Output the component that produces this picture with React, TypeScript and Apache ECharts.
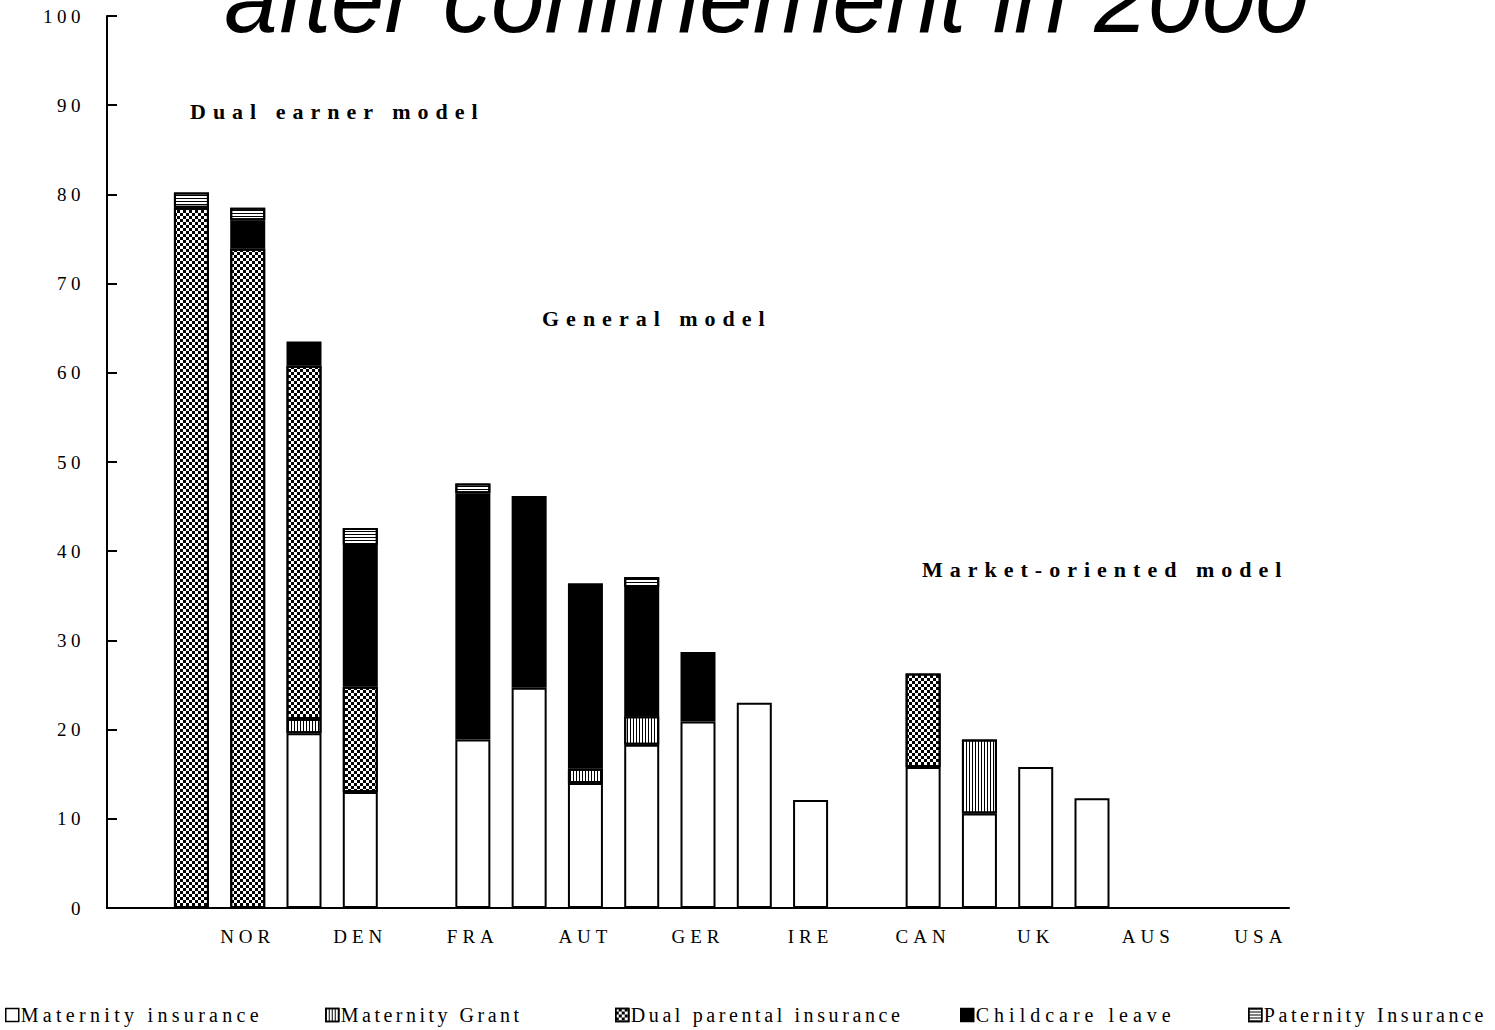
import React, { useEffect, useRef } from "react";
import * as echarts from "echarts";

// ---- data ----
const xTickLabels = ["", "", "NOR", "", "DEN", "", "FRA", "", "AUT", "", "GER", "", "IRE", "", "CAN", "", "UK", "", "AUS", "", "USA"];
const yTicks = [0, 10, 20, 30, 40, 50, 60, 70, 80, 90, 100];

const maternityInsurance = [null, null, null, 19.6, 13.0, null, 18.9, 24.7, 14.0, 18.3, 20.9, 23.0, 12.1, null, 15.8, 10.6, 15.8, 12.3, null, null, null];
const maternityGrant = [null, null, null, 1.6, null, null, null, null, 1.6, 3.2, null, null, null, null, null, 8.3, null, null, null, null, null];
const dualParental = [null, 78.5, 73.9, 39.6, 11.8, null, null, null, null, null, null, null, null, null, 10.5, null, null, null, null, null, null];
const childcareLeave = [null, null, 3.2, 2.7, 15.9, null, 27.6, 21.5, 20.8, 14.5, 7.8, null, null, null, null, null, null, null, null, null, null];
const paternityInsurance = [null, 1.7, 1.4, null, 1.9, null, 1.1, null, null, 1.1, null, null, null, null, null, null, null, null, null, null, null];

const seriesNames = ["Maternity insurance", "Maternity Grant", "Dual parental insurance", "Childcare leave", "Paternity Insurance"];
const titleText = "after confinement in 2000";
const annotations = ["Dual earner model", "General model", "Market-oriented model"];

const SERIF = '"Liberation Serif", "Times New Roman", serif';

export default function App() {
  const ref = useRef<HTMLDivElement | null>(null);

  useEffect(() => {
    if (!ref.current) return;
    const chart = echarts.init(ref.current, null, { renderer: "svg" });

    const baseItem = { borderColor: "#000", borderWidth: 2 };
    const decals: any[] = [
      null,
      { symbol: "rect", symbolSize: 1, color: "#000", dashArrayX: [[1, 2]], dashArrayY: [3, 0] },
      { symbol: "rect", symbolSize: 1, color: "#000", dashArrayX: [[3, 3], [0, 3, 3, 0]], dashArrayY: [3, 0] },
      null,
      { symbol: "rect", symbolSize: 1, color: "#000", dashArrayX: [[3, 0]], dashArrayY: [1, 2] },
    ];
    const fills = ["#fff", "#fff", "#fff", "#000", "#fff"];
    const datas = [maternityInsurance, maternityGrant, dualParental, childcareLeave, paternityInsurance];

    const series = seriesNames.map((name, i) => {
      const itemStyle: any = { ...baseItem, color: fills[i] };
      if (decals[i]) itemStyle.decal = decals[i];
      return {
        name,
        type: "bar",
        stack: "total",
        barWidth: 35,
        data: datas[i],
        itemStyle,
        emphasis: { disabled: true },
      };
    });

    const legendLefts = [5, 325, 615, 960, 1248];
    const legendSpacing = [4.3, 3.5, 3.6, 5, 3.6];
    const legend = seriesNames.map((n, i) => ({
      data: [n],
      left: legendLefts[i],
      top: 1005,
      icon: "rect",
      itemWidth: 13,
      itemHeight: 13,
      padding: 0,
      selectedMode: false,
      textStyle: { fontFamily: SERIF, fontSize: 20, color: "#000", padding: [0, 0, 0, -3] },
      itemStyle: { borderColor: "#000", borderWidth: 1.5 },
    }));

    const annotPos = [
      [190, 111.5],
      [542, 318.5],
      [922, 569.5],
    ];

    const option: any = {
      animation: false,
      backgroundColor: "#fff",
      grid: { left: 107, right: 206, top: 16, bottom: 122, containLabel: false },
      xAxis: {
        type: "category",
        data: xTickLabels,
        axisLine: { show: true, lineStyle: { color: "#000", width: 2 } },
        axisTick: { show: false },
        axisLabel: { interval: 0, color: "#000", fontFamily: SERIF, fontSize: 19, margin: 19 },
        splitLine: { show: false },
      },
      yAxis: {
        type: "value",
        min: yTicks[0],
        max: yTicks[yTicks.length - 1],
        interval: 10,
        axisLine: { show: true, lineStyle: { color: "#000", width: 2 } },
        axisTick: { show: true, inside: true, length: 10, lineStyle: { color: "#000", width: 2 } },
        splitLine: { show: false },
        axisLabel: { color: "#000", fontFamily: SERIF, fontSize: 19, margin: 22, padding: [6, 0, 0, 0] },
      },
      legend,
      tooltip: { show: false },
      graphic: [
        {
          type: "text",
          x: 766,
          y: -1.5,
          silent: true,
          style: {
            text: titleText,
            font: 'italic 96px "Liberation Sans", Arial, sans-serif',
            fill: "#000",
            align: "center",
            verticalAlign: "middle",
            textAlign: "center",
            textVerticalAlign: "middle",
          },
        },
        ...annotations.map((t, i) => ({
          type: "text",
          x: annotPos[i][0],
          y: annotPos[i][1],
          silent: true,
          style: {
            text: t,
            font: 'bold 22px "Liberation Serif", "Times New Roman", serif',
            fill: "#000",
            align: "left",
            verticalAlign: "middle",
            textAlign: "left",
            textVerticalAlign: "middle",
          },
        })),
      ],
      series,
    };

    chart.setOption(option);

    const spacing = new Map<string, number>();
    yTicks.forEach((v) => spacing.set(String(v), 4.5));
    xTickLabels.forEach((l) => l && spacing.set(l, 5));
    annotations.forEach((a) => spacing.set(a, 7));
    seriesNames.forEach((s, i) => spacing.set(s, legendSpacing[i]));

    const apply = () => {
      const el = ref.current;
      if (!el) return;
      el.querySelectorAll("text").forEach((t) => {
        const s = spacing.get((t.textContent || "").trim());
        if (s != null) t.setAttribute("letter-spacing", String(s));
      });
    };
    apply();
    chart.on("finished", apply);
    const timer = setTimeout(apply, 50);

    return () => {
      clearTimeout(timer);
      chart.dispose();
    };
  }, []);

  return (
    <div
      ref={ref}
      style={{ position: "absolute", left: 0, top: 0, width: 1495, height: 1030, background: "#fff" }}
    />
  );
}
